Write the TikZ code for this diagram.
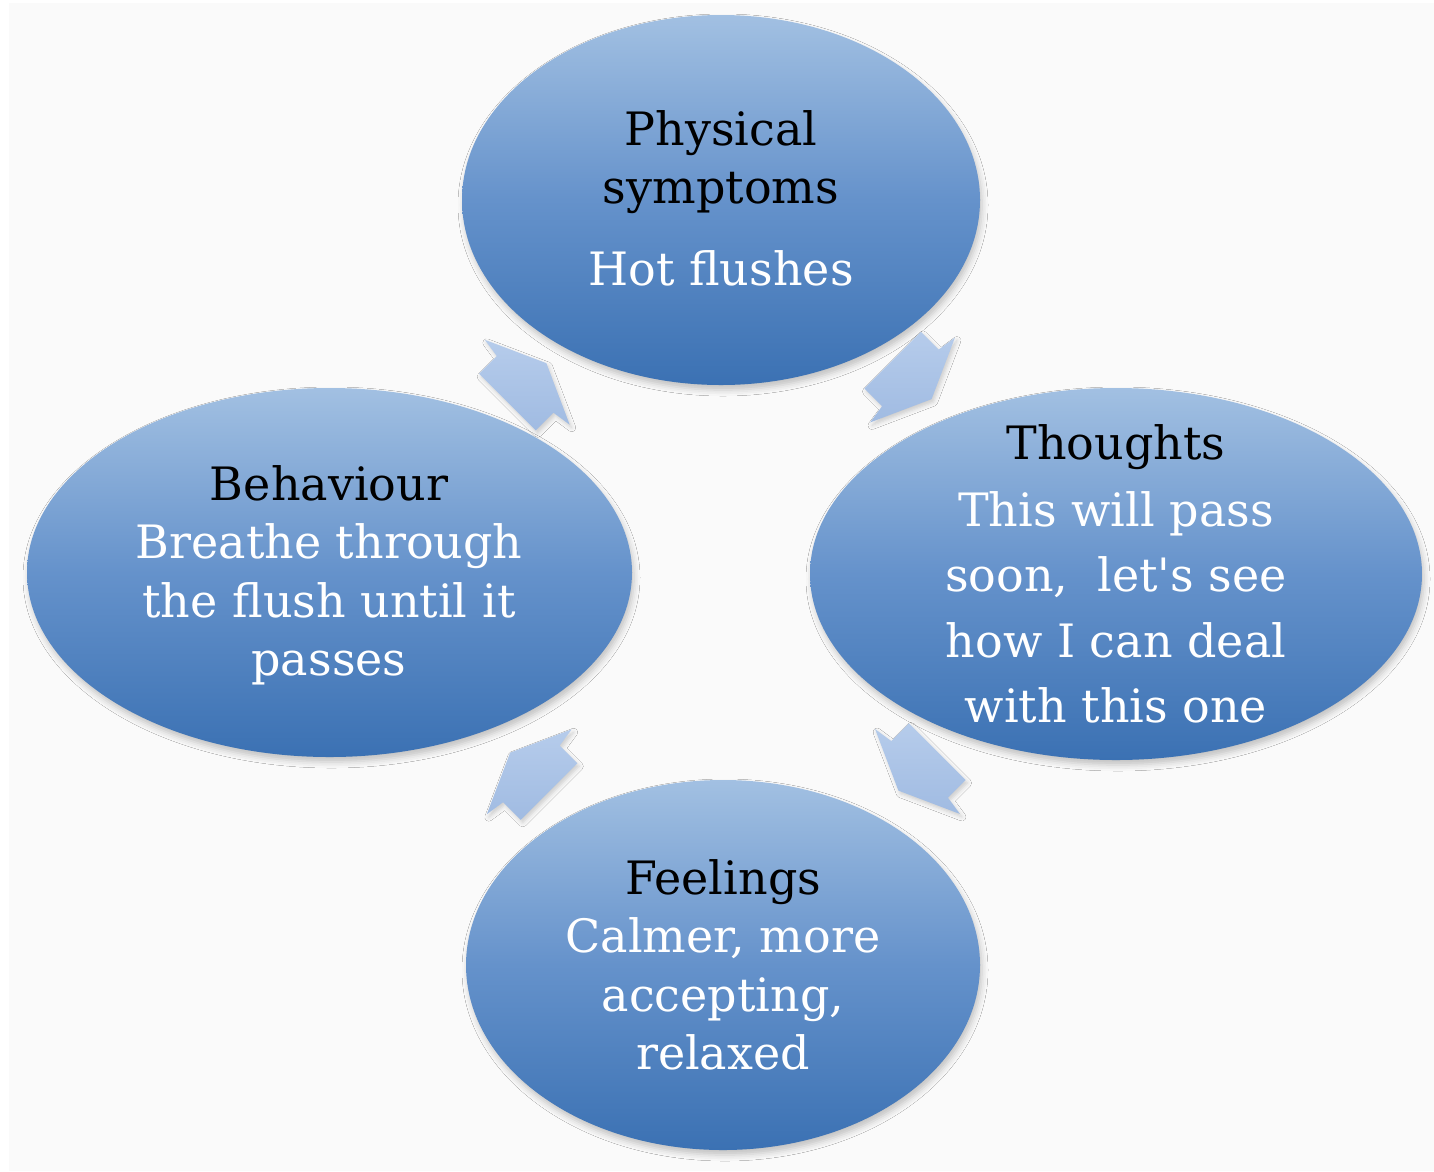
\documentclass[tikz,border=0pt]{standalone}
\usepackage{fontspec}
\setmainfont{DejaVu Serif}
\newfontfamily\plainserif{DejaVu Serif}[Ligatures=ResetAll]
\usetikzlibrary{shapes.geometric,shadows.blur,calc}
\definecolor{bgpanel}{HTML}{FAFAFA}
\definecolor{elltop}{HTML}{A2C0E2}
\definecolor{ellmid}{HTML}{6592CB}
\definecolor{ellbot}{HTML}{3B71B3}
\definecolor{arrowtop}{HTML}{B6CCEB}
\definecolor{arrowbot}{HTML}{A0BBE2}
\newcommand\cyclearrow[5]{% from, to, angle, dx, dy
  \begin{scope}[shift={($(#1)!0.5!(#2)+(#4,#5)$)}, rotate=#3]
    \path[flowarrow] (27,0) -- (0,60) -- (-3,40) -- (-28,40) -- (-28,-40) -- (-3,-40) -- (0,-60) -- cycle;
  \end{scope}}
\begin{document}
\begin{tikzpicture}[x=1pt,y=-1pt,
  bubble/.style={ellipse, draw=none, inner sep=0pt, top color=elltop, bottom color=ellbot, middle color=ellmid,
    blur shadow={shadow xshift=2pt, shadow yshift=-5pt, shadow blur radius=6pt, shadow opacity=22}},
  headtxt/.style={anchor=base, text=black, inner sep=0pt, font=\plainserif\fontsize{46}{55}\selectfont},
  bodytxt/.style={anchor=base, text=white, inner sep=0pt, font=\plainserif\fontsize{46}{55}\selectfont},
  flowarrow/.style={draw=none, top color=arrowtop, bottom color=arrowbot,
    blur shadow={shadow xshift=2pt, shadow yshift=-3pt, shadow blur radius=4pt, shadow opacity=18}}
]
\useasboundingbox (0,0) rectangle (1434,1171);
\fill[white] (0,0) rectangle (1434,1171);
\fill[bgpanel] (9,3) rectangle (1434,1171);

% bubbles
\node[bubble, minimum width=518, minimum height=370] (phys) at (721,200) {};
\node[bubble, minimum width=605, minimum height=369] (beh) at (329.5,572.5) {};
\node[bubble, minimum width=612, minimum height=372] (thou) at (1116,574) {};
\node[bubble, minimum width=514, minimum height=370] (feel) at (723,965) {};

% arrows (clockwise cycle)
\cyclearrow{beh}{phys}{45}{2}{-4}
\cyclearrow{phys}{thou}{-45}{-6}{-7}
\cyclearrow{thou}{feel}{-135}{-2}{2}
\cyclearrow{feel}{beh}{135}{3}{3}

% texts
\node[headtxt] (p1) at (721,145) {Physical};
\node[headtxt] (p2) at (721,203) {symptoms};
\node[bodytxt] (p3) at (721,285) {Hot flushes};

\node[headtxt] (b1) at (329,500) {Behaviour};
\node[bodytxt] (b2) at (329,558) {Breathe through};
\node[bodytxt] (b3) at (329,617) {the flush until it};
\node[bodytxt] (b4) at (329,675) {passes};

\node[headtxt] (h1) at (1116,459) {Thoughts};
\node[bodytxt] (h2) at (1116,526) {This will pass};
\node[bodytxt] (h3) at (1116,591) {soon,\ \ let's see};
\node[bodytxt] (h4) at (1116,657) {how I can deal};
\node[bodytxt] (h5) at (1116,722) {with this one};

\node[headtxt] (f1) at (723,894) {Feelings};
\node[bodytxt] (f2) at (723,952) {Calmer, more};
\node[bodytxt] (f3) at (723,1011) {accepting,};
\node[bodytxt] (f4) at (723,1069) {relaxed};
\end{tikzpicture}
\end{document}
